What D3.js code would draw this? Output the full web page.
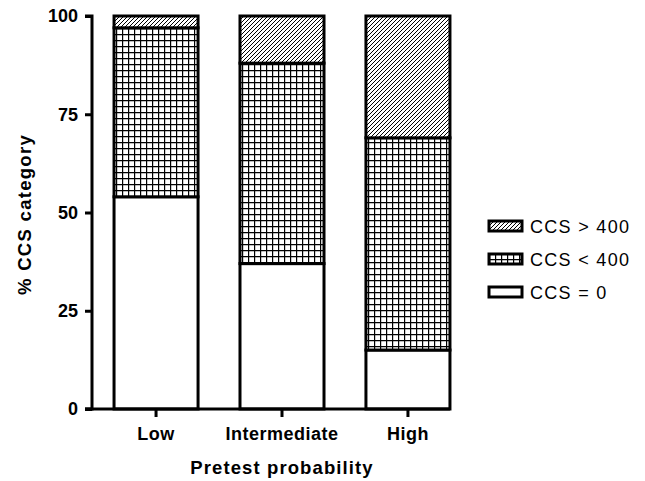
<!DOCTYPE html>
<meta charset="utf-8">
<html>
  <head>
    <script src="https://d3js.org/d3.v7.min.js"></script>
    <style>
      body { margin: 0; background: #fff; }
      text { font-family: "Liberation Sans", Arial, sans-serif; }
    </style>
  </head>
  <body>
    <div id="chart"></div>

    <script type="text/javascript">
      var categories = ["Low", "Intermediate", "High"],
          seriesNames = ["CCS = 0", "CCS < 400", "CCS > 400"],
          ccsZero = [54, 37, 15],
          ccsUnder400 = [43, 51, 54],
          ccsOver400 = [3, 12, 31],
          yTicks = [0, 25, 50, 75, 100];

      var width = 645, height = 481,
          margin = { top: 16, left: 92, bottom: 72 },
          plotH = height - margin.top - margin.bottom;

      var svg = d3.select("#chart").append("svg")
          .attr("width", width)
          .attr("height", height);

      // patterns
      var defs = svg.append("defs");
      var grid = defs.append("pattern")
          .attr("id", "grid")
          .attr("patternUnits", "userSpaceOnUse")
          .attr("width", 6).attr("height", 6);
      grid.append("rect").attr("width", 6).attr("height", 6).attr("fill", "#fff");
      grid.append("path").attr("d", "M0,0.6H6M0.6,0V6")
          .attr("stroke", "#000").attr("stroke-width", 1.2);

      var hatch = defs.append("pattern")
          .attr("id", "hatch")
          .attr("patternUnits", "userSpaceOnUse")
          .attr("width", 4).attr("height", 4);
      hatch.append("rect").attr("width", 4).attr("height", 4).attr("fill", "#fff");
      hatch.append("path").attr("d", "M-1,1L1,-1M0,4L4,0M3,5L5,3")
          .attr("stroke", "#000").attr("stroke-width", 1);

      var fills = ["#fff", "url(#grid)", "url(#hatch)"];

      var g = svg.append("g")
          .attr("transform", "translate(" + margin.left + "," + margin.top + ")");

      var x = d3.scaleBand()
          .domain(categories)
          .range([0, 380])
          .paddingInner(0.333)
          .paddingOuter(0.175);

      var y = d3.scaleLinear().domain([0, 100]).range([plotH, 0]);

      var rows = categories.map(function(c, i) {
        return { cat: c, s0: ccsZero[i], s1: ccsUnder400[i], s2: ccsOver400[i] };
      });
      var stacked = d3.stack().keys(["s0", "s1", "s2"])(rows);

      stacked.forEach(function(layer, k) {
        g.selectAll(".bar" + k)
          .data(layer)
          .enter().append("rect")
          .attr("x", function(d) { return x(d.data.cat); })
          .attr("width", x.bandwidth())
          .attr("y", function(d) { return y(d[1]); })
          .attr("height", function(d) { return y(d[0]) - y(d[1]); })
          .attr("fill", fills[k])
          .attr("stroke", "#000")
          .attr("stroke-width", 3);
      });

      // axes
      var yAxis = g.append("g")
          .call(d3.axisLeft(y).tickValues(yTicks).tickSize(7).tickPadding(7));
      var xAxis = g.append("g")
          .attr("transform", "translate(0," + plotH + ")")
          .call(d3.axisBottom(x).tickSize(8).tickPadding(10).tickSizeOuter(0));

      [yAxis, xAxis].forEach(function(a) {
        a.select(".domain").attr("stroke", "#000").attr("stroke-width", 3);
        a.selectAll(".tick line").attr("stroke", "#000").attr("stroke-width", 3);
        a.selectAll("text")
          .style("font-family", "'Liberation Sans', Arial, sans-serif")
          .style("font-weight", "bold")
          .style("font-size", "18px")
          .attr("fill", "#000");
      });
      xAxis.selectAll("text").style("letter-spacing", "0.5px");
      yAxis.select(".domain").attr("d", "M-7,0H0V" + plotH + "H-7");
      var lastBar = x(categories[categories.length - 1]) + x.bandwidth();
      xAxis.select(".domain").attr("d", "M-7,0H" + lastBar);

      // axis titles
      svg.append("text")
          .attr("transform", "translate(31," + (margin.top + plotH / 2 + 2) + ") rotate(-90)")
          .attr("text-anchor", "middle")
          .style("font-weight", "bold")
          .style("font-size", "18.5px")
          .style("letter-spacing", "1.3px")
          .text("% CCS category");

      svg.append("text")
          .attr("x", margin.left + x("Intermediate") + x.bandwidth() / 2)
          .attr("y", 474)
          .attr("text-anchor", "middle")
          .style("font-weight", "bold")
          .style("font-size", "18.5px")
          .style("letter-spacing", "1.1px")
          .text("Pretest probability");

      // legend
      var legend = svg.append("g").attr("transform", "translate(489,226)");
      var order = [2, 1, 0];
      order.forEach(function(k, i) {
        var row = legend.append("g").attr("transform", "translate(0," + (i * 33) + ")");
        row.append("rect")
          .attr("x", 0).attr("y", -5)
          .attr("width", 33).attr("height", 10)
          .attr("fill", fills[k])
          .attr("stroke", "#000")
          .attr("stroke-width", 3);
        row.append("text")
          .attr("x", 41).attr("y", 7)
          .style("font-size", "18px")
          .style("letter-spacing", "1.3px")
          .text(seriesNames[k]);
      });
    </script>
  </body>
</html>
